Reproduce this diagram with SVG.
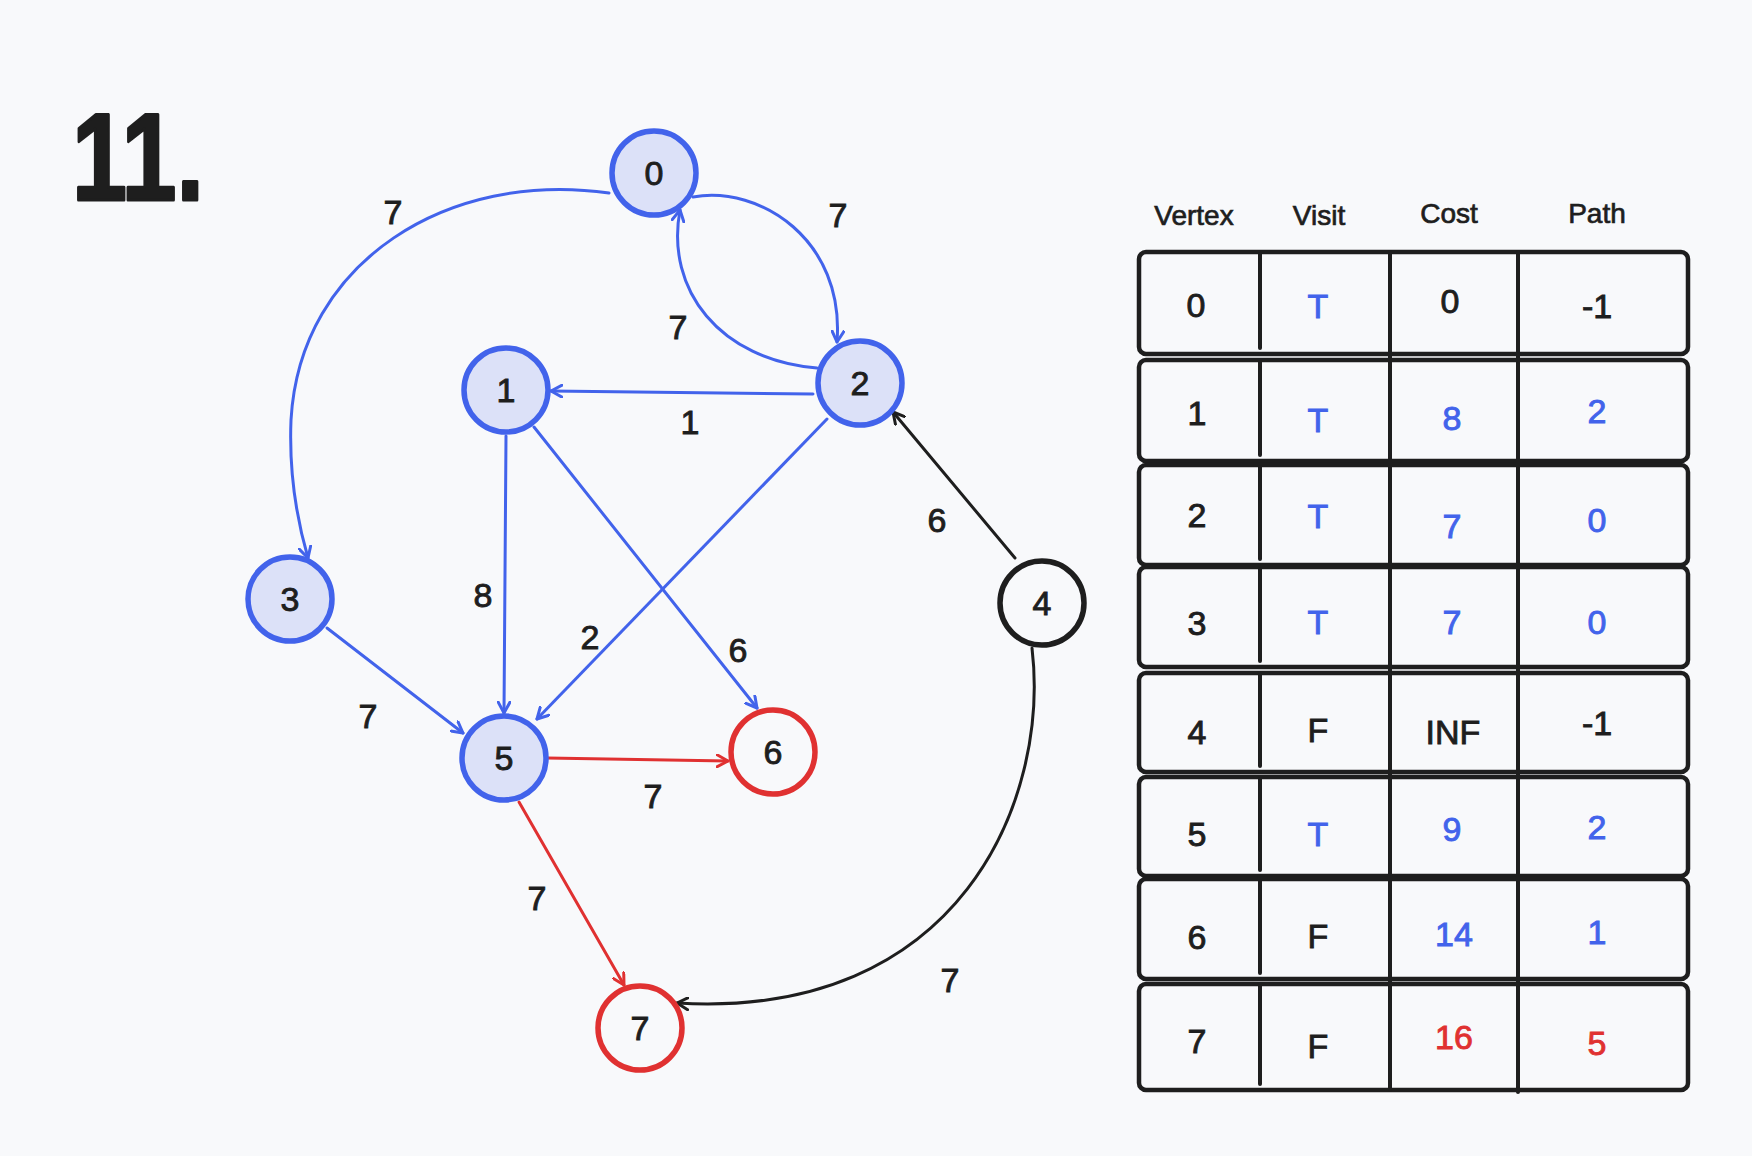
<svg xmlns="http://www.w3.org/2000/svg" width="1752" height="1156" viewBox="0 0 1752 1156">
<style>
.bg{fill:#f8f9fb}
.nb{fill:#dce1f8;stroke:#4263eb;stroke-width:5.5}
.nr{fill:none;stroke:#e03131;stroke-width:5.5}
.nk{fill:none;stroke:#1e1e1e;stroke-width:5.5}
.title{font-family:"Liberation Sans",Arial,sans-serif;font-weight:bold;font-size:125px;fill:#1e1e1e;stroke:#1e1e1e;stroke-width:3;stroke-linejoin:round}
.t{font-family:"Liberation Sans",Arial,sans-serif;font-size:34px;fill:#1e1e1e;stroke:#1e1e1e;stroke-width:0.9;text-anchor:middle}
.h{font-family:"Liberation Sans",Arial,sans-serif;font-size:28px;fill:#1e1e1e;stroke:#1e1e1e;stroke-width:0.7;text-anchor:middle}
.blue{fill:#4263eb;stroke:#4263eb}
.red{fill:#e03131;stroke:#e03131}
.eb{fill:none;stroke:#4263eb;stroke-width:3;stroke-linecap:round}
.er{fill:none;stroke:#e03131;stroke-width:3;stroke-linecap:round}
.ek{fill:none;stroke:#1e1e1e;stroke-width:3;stroke-linecap:round}
.row{fill:none;stroke:#1e1e1e;stroke-width:4.5}
.div{stroke:#1e1e1e;stroke-width:4;stroke-linecap:round}
</style>
<defs>
<marker id="mb" viewBox="0 0 14 14" refX="12" refY="7" markerWidth="14" markerHeight="14" orient="auto" markerUnits="userSpaceOnUse"><path d="M1,1 L12,7 L1,13" fill="none" stroke="#4263eb" stroke-width="3" stroke-linecap="round" stroke-linejoin="round"/></marker>
<marker id="mr" viewBox="0 0 14 14" refX="12" refY="7" markerWidth="14" markerHeight="14" orient="auto" markerUnits="userSpaceOnUse"><path d="M1,1 L12,7 L1,13" fill="none" stroke="#e03131" stroke-width="3" stroke-linecap="round" stroke-linejoin="round"/></marker>
<marker id="mk" viewBox="0 0 14 14" refX="12" refY="7" markerWidth="14" markerHeight="14" orient="auto" markerUnits="userSpaceOnUse"><path d="M1,1 L12,7 L1,13" fill="none" stroke="#1e1e1e" stroke-width="3" stroke-linecap="round" stroke-linejoin="round"/></marker>
</defs>
<rect class="bg" x="0" y="0" width="1752" height="1156"/>
<text class="title" x="72" y="200" textLength="132" lengthAdjust="spacingAndGlyphs">11.</text>

<g id="connectors">
<path class="eb" d="M609,193 C450,170 300,260 291,420 C289,470 297,520 308,558" marker-end="url(#mb)"/>
<path class="eb" d="M693,197 C760,185 845,240 837,342" marker-end="url(#mb)"/>
<path class="eb" d="M817,368 C720,360 665,290 680,210" marker-end="url(#mb)"/>
<path class="eb" d="M813,394 L551,391" marker-end="url(#mb)"/>
<path class="eb" d="M506,436 L504,713" marker-end="url(#mb)"/>
<path class="eb" d="M534,427 L757,708" marker-end="url(#mb)"/>
<path class="eb" d="M827,419 L537,719" marker-end="url(#mb)"/>
<path class="eb" d="M327,628 L463,733" marker-end="url(#mb)"/>
<path class="er" d="M547,758 L728,761" marker-end="url(#mr)"/>
<path class="er" d="M519,802 L624,985" marker-end="url(#mr)"/>
<path class="ek" d="M1015,558 L893,412" marker-end="url(#mk)"/>
<path class="ek" d="M1032,648 C1050,800 960,1020 677,1003" marker-end="url(#mk)"/>
<text class="t" x="393" y="224">7</text>
<text class="t" x="838" y="227">7</text>
<text class="t" x="678" y="339">7</text>
<text class="t" x="690" y="434">1</text>
<text class="t" x="483" y="607">8</text>
<text class="t" x="590" y="649">2</text>
<text class="t" x="368" y="728">7</text>
<text class="t" x="653" y="808">7</text>
<text class="t" x="738" y="662">6</text>
<text class="t" x="937" y="532">6</text>
<text class="t" x="537" y="910">7</text>
<text class="t" x="950" y="992">7</text>
</g>

<g id="node0"><circle class="nb" cx="654" cy="173" r="42"/><text class="t" x="654" y="185">0</text></g>
<g id="node1"><circle class="nb" cx="506" cy="390" r="42"/><text class="t" x="506" y="402">1</text></g>
<g id="node2"><circle class="nb" cx="860" cy="383" r="42"/><text class="t" x="860" y="395">2</text></g>
<g id="node3"><circle class="nb" cx="290" cy="599" r="42"/><text class="t" x="290" y="611">3</text></g>
<g id="node4"><circle class="nk" cx="1042" cy="603" r="42"/><text class="t" x="1042" y="615">4</text></g>
<g id="node5"><circle class="nb" cx="504" cy="758" r="42"/><text class="t" x="504" y="770">5</text></g>
<g id="node6"><circle class="nr" cx="773" cy="752" r="42"/><text class="t" x="773" y="764">6</text></g>
<g id="node7"><circle class="nr" cx="640" cy="1028" r="42"/><text class="t" x="640" y="1040">7</text></g>

<g id="table">
<text class="h" x="1194" y="225">Vertex</text>
<text class="h" x="1319" y="225">Visit</text>
<text class="h" x="1449" y="223">Cost</text>
<text class="h" x="1597" y="223">Path</text>
<rect class="row" x="1139" y="252" width="549" height="102" rx="7"/>
<rect class="row" x="1139" y="360" width="549" height="101" rx="7"/>
<rect class="row" x="1139" y="465" width="549" height="100" rx="7"/>
<rect class="row" x="1139" y="567" width="549" height="100" rx="7"/>
<rect class="row" x="1139" y="673" width="549" height="99" rx="7"/>
<rect class="row" x="1139" y="777" width="549" height="99" rx="7"/>
<rect class="row" x="1139" y="879" width="549" height="100" rx="7"/>
<rect class="row" x="1139" y="984" width="549" height="106" rx="7"/>
<line class="div" x1="1260" y1="254" x2="1260" y2="348"/>
<line class="div" x1="1260" y1="362" x2="1260" y2="455"/>
<line class="div" x1="1260" y1="467" x2="1260" y2="559"/>
<line class="div" x1="1260" y1="569" x2="1260" y2="661"/>
<line class="div" x1="1260" y1="675" x2="1260" y2="766"/>
<line class="div" x1="1260" y1="779" x2="1260" y2="870"/>
<line class="div" x1="1260" y1="881" x2="1260" y2="973"/>
<line class="div" x1="1260" y1="986" x2="1260" y2="1084"/>
<line class="div" x1="1390" y1="252" x2="1390" y2="1090"/>
<line class="div" x1="1518" y1="252" x2="1518" y2="1092"/>

<text class="t" x="1196" y="317">0</text>
<text class="t blue" x="1318" y="318">T</text>
<text class="t" x="1450" y="313">0</text>
<text class="t" x="1597" y="318">-1</text>

<text class="t" x="1197" y="425">1</text>
<text class="t blue" x="1318" y="432">T</text>
<text class="t blue" x="1452" y="430">8</text>
<text class="t blue" x="1597" y="423">2</text>

<text class="t" x="1197" y="527">2</text>
<text class="t blue" x="1318" y="528">T</text>
<text class="t blue" x="1452" y="538">7</text>
<text class="t blue" x="1597" y="532">0</text>

<text class="t" x="1197" y="635">3</text>
<text class="t blue" x="1318" y="634">T</text>
<text class="t blue" x="1452" y="634">7</text>
<text class="t blue" x="1597" y="634">0</text>

<text class="t" x="1197" y="744">4</text>
<text class="t" x="1318" y="742">F</text>
<text class="t" x="1453" y="744">INF</text>
<text class="t" x="1597" y="735">-1</text>

<text class="t" x="1197" y="846">5</text>
<text class="t blue" x="1318" y="846">T</text>
<text class="t blue" x="1452" y="841">9</text>
<text class="t blue" x="1597" y="839">2</text>

<text class="t" x="1197" y="949">6</text>
<text class="t" x="1318" y="948">F</text>
<text class="t blue" x="1454" y="946">14</text>
<text class="t blue" x="1597" y="944">1</text>

<text class="t" x="1197" y="1053">7</text>
<text class="t" x="1318" y="1058">F</text>
<text class="t red" x="1454" y="1049">16</text>
<text class="t red" x="1597" y="1055">5</text>
</g>
</svg>
